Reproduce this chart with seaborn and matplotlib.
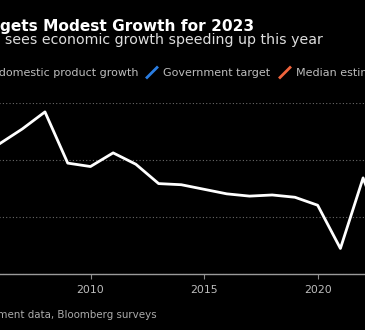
import pandas as pd
import matplotlib
matplotlib.use("Agg")
import matplotlib.pyplot as plt
from matplotlib.lines import Line2D
import seaborn as sns

# ---------------- data ----------------
years = [2005, 2006, 2007, 2008, 2009, 2010, 2011, 2012, 2013, 2014,
         2015, 2016, 2017, 2018, 2019, 2020, 2021, 2022]
gdp_growth = [11.4, 12.7, 14.2, 9.7, 9.4, 10.6, 9.6, 7.9, 7.8, 7.4,
              7.0, 6.8, 6.9, 6.7, 6.0, 2.2, 8.4, 3.0]
target_years = [2023]
gov_target = [5.0]
median_estimate = [5.3]
x_tick_years = [2010, 2015, 2020]
y_ticks = [0, 5, 10, 15]

title = "China Targets Modest Growth for 2023"
subtitle = "Government sees economic growth speeding up this year"
legend_labels = ["Gross domestic product growth", "Government target", "Median estimate"]
source = "Source: Government data, Bloomberg surveys"

# ---------------- style ----------------
sns.set_style({"axes.facecolor": "black", "figure.facecolor": "black"})
plt.rcParams["font.family"] = ["DejaVu Sans"]

W, H = 365, 330
fig = plt.figure(figsize=(W / 100, H / 100), dpi=100, facecolor="black")

# axes layout (pixel geometry of the cropped view)
x_left = pd.Timestamp("2004-01-01")
x_right = pd.Timestamp("2025-01-01")
t2010 = pd.Timestamp("2010-01-01")
t2020 = pd.Timestamp("2020-01-01")
px2010, px2020 = 90.5, 317.7
ppd = (px2020 - px2010) / (t2020 - t2010).days
left_px = px2010 - (t2010 - x_left).days * ppd
width_px = (x_right - x_left).days * ppd
y0_px, y15_px = 273.5, 102.8
ax = fig.add_axes([left_px / W, (H - y0_px) / H, width_px / W, (y0_px - y15_px) / H])
ax.set_facecolor("black")

df = pd.DataFrame({"date": pd.to_datetime([f"{y}-12-31" for y in years]),
                   "gdp": gdp_growth})
df_t = pd.DataFrame({"date": pd.to_datetime([f"{y}-12-31" for y in target_years]),
                     "target": gov_target, "median": median_estimate})

sns.lineplot(data=df, x="date", y="gdp", color="white", linewidth=2.0, ax=ax,
             legend=False, zorder=4)
sns.scatterplot(data=df_t, x="date", y="target", color="#2a7de1", s=30, ax=ax,
                legend=False, zorder=5, linewidth=0)
sns.scatterplot(data=df_t, x="date", y="median", color="#f0643c", s=30, ax=ax,
                legend=False, zorder=5, linewidth=0)

ax.set_xlim(x_left, x_right)
ax.set_ylim(0, 15)
ax.set_xlabel("")
ax.set_ylabel("")
ax.set_xticks([pd.Timestamp(f"{y}-01-01") for y in x_tick_years])
ax.set_xticklabels([str(y) for y in x_tick_years])
ax.set_yticks(y_ticks)
ax.tick_params(axis="x", direction="out", length=3.6, width=0.8, color="#8a8a8a",
               labelcolor="#bdbdbd", labelsize=7.8, pad=4.5)
ax.tick_params(axis="y", length=0, labelleft=False, labelright=False)
ax.yaxis.grid(True, color="#6a6a6a", linestyle=(0, (1, 2)), linewidth=0.8)
ax.xaxis.grid(False)
ax.set_axisbelow(True)
for s in ["top", "left", "right"]:
    ax.spines[s].set_visible(False)
ax.spines["bottom"].set_color("#9a9a9a")
ax.spines["bottom"].set_linewidth(1.0)

# ---------------- texts ----------------
def fy(px):
    return 1 - px / H

fig.text(254 / W, fy(31.3), title, ha="right", va="baseline", fontsize=11.1,
         fontweight="bold", color="white")
fig.text(323 / W, fy(44.3), subtitle, ha="right", va="baseline", fontsize=10.2,
         color="#dedede")

leg_base = 76
t0 = fig.text(138 / W, fy(leg_base), legend_labels[0], ha="right", va="baseline",
              fontsize=8, color="#bdbdbd")
fig.text(163 / W, fy(leg_base), legend_labels[1], ha="left", va="baseline",
         fontsize=8, color="#bdbdbd")
fig.text(296 / W, fy(leg_base), legend_labels[2], ha="left", va="baseline",
         fontsize=8, color="#bdbdbd")

r = fig.canvas.get_renderer()
bb = t0.get_window_extent(renderer=r)
gx = bb.x0 - 16
handles = [(gx, "white"), (147, "#2a7de1"), (280, "#f0643c")]
for hx, col in handles:
    fig.add_artist(Line2D([hx / W, (hx + 10) / W], [fy(77.5), fy(67.5)],
                          color=col, linewidth=2.0, transform=fig.transFigure))

fig.text(157 / W, fy(318.3), source, ha="right", va="baseline", fontsize=7.4,
         color="#ababab")

fig.savefig("out.png", dpi=100, facecolor="black")
